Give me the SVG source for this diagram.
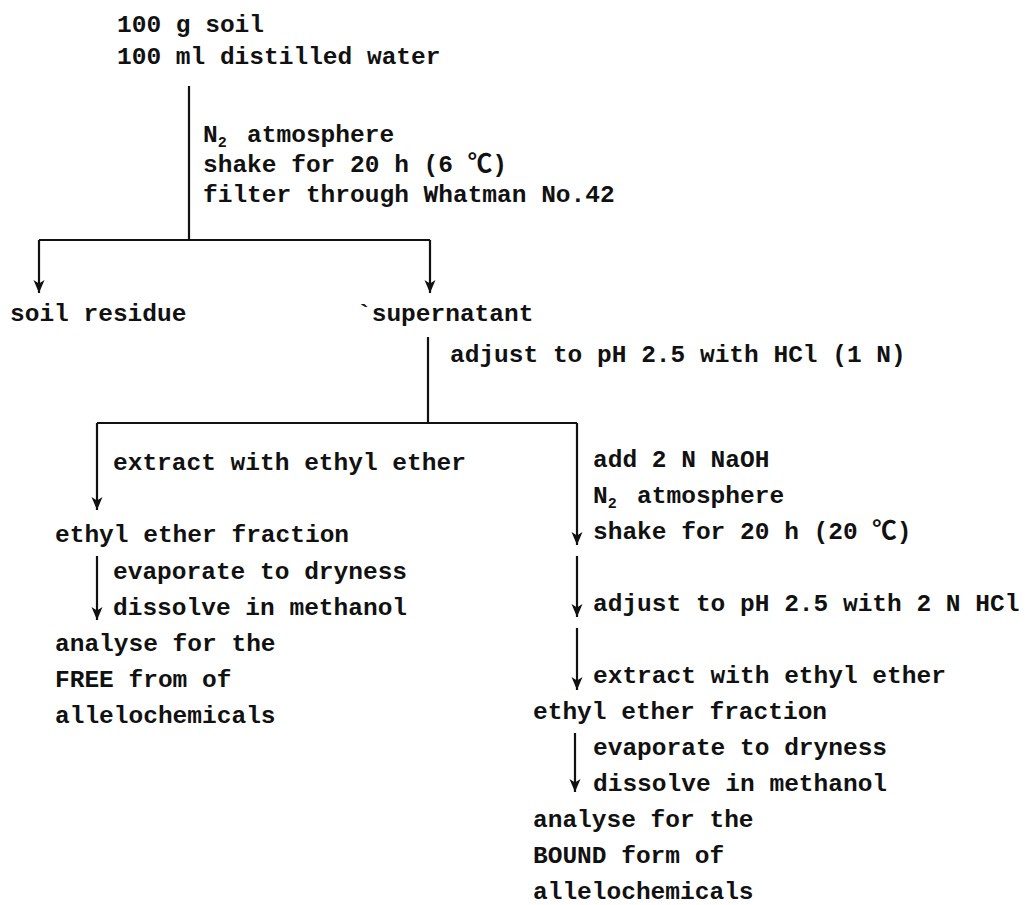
<svg xmlns="http://www.w3.org/2000/svg" width="1029" height="905" viewBox="0 0 1029 905">
<style>
text{font-family:"Liberation Mono","Noto Sans CJK JP",monospace;font-size:24.5px;font-weight:bold;fill:#111}
.sub{font-size:15px}
.ln{stroke:#111;stroke-width:2.2;fill:none}
</style>
<defs>
<marker id="ah" markerUnits="userSpaceOnUse" markerWidth="14" markerHeight="12" viewBox="0 0 14 12" refX="13" refY="6" orient="auto">
<path d="M0,0.5 L13,6 L0,11.5 L3.5,6 Z" fill="#111"/>
</marker>
</defs>
<rect width="1029" height="905" fill="#fff"/>
<g id="connectors">
<path class="ln" d="M189,86 V240"/>
<path class="ln" d="M39,240 H430"/>
<path class="ln" d="M39,240 V293" marker-end="url(#ah)"/>
<path class="ln" d="M430,240 V293" marker-end="url(#ah)"/>
<path class="ln" d="M428,337 V423"/>
<path class="ln" d="M97,423 H577"/>
<path class="ln" d="M97,423 V510" marker-end="url(#ah)"/>
<path class="ln" d="M97,556 V620" marker-end="url(#ah)"/>
<path class="ln" d="M577,423 V545" marker-end="url(#ah)"/>
<path class="ln" d="M577,556 V617" marker-end="url(#ah)"/>
<path class="ln" d="M577,628 V690" marker-end="url(#ah)"/>
<path class="ln" d="M575,733 V792" marker-end="url(#ah)"/>
</g>
<g id="start"><text x="117" y="32">100 g soil</text><text x="117" y="64">100 ml distilled water</text></g>
<g id="step1"><text x="203" y="142">N<tspan class="sub" dy="5">2</tspan><tspan x="232.4" dy="-5"> atmosphere</tspan></text><text x="203" y="172">shake for 20 h (6 ℃)</text><text x="203" y="202">filter through Whatman No.42</text></g>
<g id="residue"><text x="10" y="321">soil residue</text></g>
<g id="supernatant"><text x="357" y="321">`supernatant</text></g>
<g id="step2"><text x="450" y="362">adjust to pH 2.5 with HCl (1 N)</text></g>
<g id="free-extract"><text x="113" y="470">extract with ethyl ether</text></g>
<g id="free-fraction"><text x="55" y="542">ethyl ether fraction</text></g>
<g id="free-evap"><text x="113" y="579">evaporate to dryness</text><text x="113" y="615">dissolve in methanol</text></g>
<g id="free-result"><text x="55" y="651">analyse for the</text><text x="55" y="687">FREE from of</text><text x="55" y="723">allelochemicals</text></g>
<g id="bound-hydrolysis"><text x="593" y="467">add 2 N NaOH</text><text x="593" y="503">N<tspan class="sub" dy="5">2</tspan><tspan x="622.4" dy="-5"> atmosphere</tspan></text><text x="593" y="539">shake for 20 h (20 ℃)</text></g>
<g id="bound-acid"><text x="593" y="611">adjust to pH 2.5 with 2 N HCl</text></g>
<g id="bound-extract"><text x="593" y="683">extract with ethyl ether</text></g>
<g id="bound-fraction"><text x="533" y="719">ethyl ether fraction</text></g>
<g id="bound-evap"><text x="593" y="755">evaporate to dryness</text><text x="593" y="791">dissolve in methanol</text></g>
<g id="bound-result"><text x="533" y="827">analyse for the</text><text x="533" y="863">BOUND form of</text><text x="533" y="899">allelochemicals</text></g>
</svg>
